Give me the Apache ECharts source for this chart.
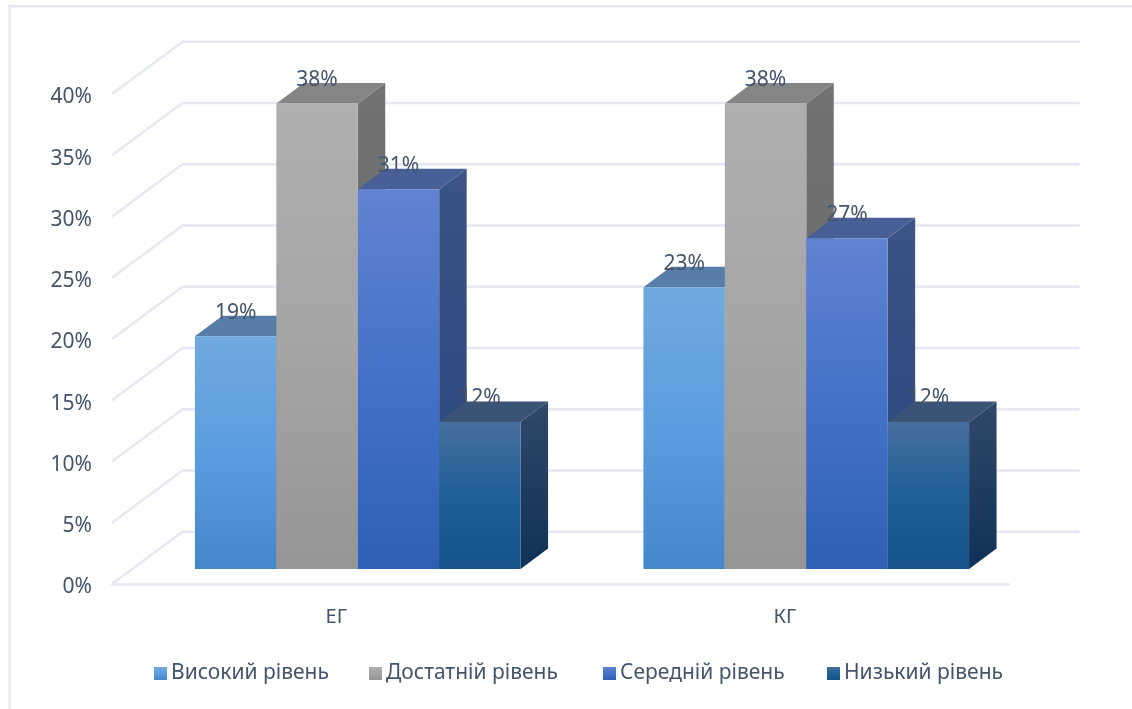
<!DOCTYPE html>
<html><head><meta charset="utf-8">
<style>html,body{margin:0;padding:0;background:#fff}#c{width:1132px;height:709px}</style>
<script src="https://cdn.jsdelivr.net/npm/echarts@6/dist/echarts.min.js"></script>
</head><body><div id="c"></div>
<script>
const categories = ['ЕГ', 'КГ'];
const seriesNames = ['Високий рівень', 'Достатній рівень', 'Середній рівень', 'Низький рівень'];
const vysokyi = [19, 23];
const dostatnii = [38, 38];
const serednii = [31, 27];
const nyzkyi = [12, 12];
const ticks = [0, 5, 10, 15, 20, 25, 30, 35, 40];

const FONT = '"Noto Sans"';
const TXT = '#44546a';
const WALL = '#e5e8f0';
const lg = (stops) => new echarts.graphic.LinearGradient(0, 0, 0, 1, stops.map((c, i) => ({offset: stops.length === 1 ? 0 : i / (stops.length - 1), color: c})));
const palettes = [
  {front: ['#70a9df', '#5b9dde', '#4587cb'], top: '#577da8', side: ['#3f6ea3', '#2f5f98']},
  {front: ['#afafaf', '#a5a5a5', '#959595'], top: '#858585', side: ['#727272', '#666666']},
  {front: ['#6183d0', '#4472c8', '#2f60b6'], top: '#486097', side: ['#3c5488', '#264579']},
  {front: ['#466f9e', '#205f97', '#15528a'], top: '#3b5377', side: ['#31486a', '#0f3157']}
];
// pseudo-3D projection, px
const wallDx = 70.5, wallDy = -52.3;
const barDx = 21.5, barDy = -15;
const depthDx = 27.5, depthDy = -20.5;
const barShare = 81.5 / 449;
const legendLefts = [154, 369, 603, 827];

function renderWall(params, api) {
  const v = api.value(0);
  const p = api.coord([0, v]);
  const cs = params.coordSys;
  const x0 = cs.x, x1 = cs.x + cs.width;
  return {type: 'polyline', silent: true,
    shape: {points: [[x0, p[1]], [x0 + wallDx, p[1] + wallDy], [x1 + wallDx, p[1] + wallDy]]},
    style: {stroke: WALL, lineWidth: 2.5, fill: null}};
}

function makeBar(si) {
  return function (params, api) {
    const cat = api.value(0), val = api.value(1);
    const top = api.coord([cat, val]), base = api.coord([cat, 0]);
    const w = api.size([1, 0])[0] * barShare;
    const xL = top[0] - 2 * w + si * w + barDx;
    const xR = xL + w;
    const yT = top[1] + barDy, yB = base[1] + barDy;
    const pal = palettes[si];
    return {type: 'group', children: [
      {type: 'polygon', shape: {points: [[xR, yT], [xR + depthDx, yT + depthDy], [xR + depthDx, yB + depthDy], [xR, yB]]},
        style: {fill: lg(pal.side)}},
      {type: 'polygon', shape: {points: [[xL, yT], [xL + depthDx, yT + depthDy], [xR + depthDx, yT + depthDy], [xR, yT]]},
        style: {fill: pal.top}},
      {type: 'rect', shape: {x: xL, y: yT, width: w, height: yB - yT},
        style: {fill: lg(pal.front)}}
    ]};
  };
}

function renderLabel(si) {
  return function (params, api) {
    const cat = api.value(0), val = api.value(1);
    const top = api.coord([cat, val]);
    const w = api.size([1, 0])[0] * barShare;
    const cx = top[0] - 2 * w + si * w + barDx + w / 2;
    return {type: 'text', silent: true,
      style: {x: cx, y: top[1] + barDy - 23.5, text: val + '%', fill: TXT, font: '21px ' + FONT, align: 'center', verticalAlign: 'middle'}};
  };
}

const values = [vysokyi, dostatnii, serednii, nyzkyi];
const series = [{type: 'custom', name: '_wall', renderItem: renderWall, data: ticks.map(t => [t]), encode: {y: 0}, silent: true, z: 1}];
values.forEach((arr, si) => {
  series.push({type: 'custom', name: seriesNames[si], renderItem: makeBar(si), z: 2 + si,
    itemStyle: {color: lg(palettes[si].front)},
    data: arr.map((v, i) => [i, v]), encode: {x: 0, y: 1}, silent: true});
});
values.forEach((arr, si) => {
  series.push({type: 'custom', name: '_label' + si, renderItem: renderLabel(si), z: 10,
    data: arr.map((v, i) => [i, v]), encode: {x: 0, y: 1}, silent: true});
});

const chart = echarts.init(document.getElementById('c'), null, {renderer: 'canvas'});
chart.setOption({
  animation: false,
  backgroundColor: '#fff',
  grid: {left: 112, right: 123, top: 94, bottom: 125, containLabel: false},
  xAxis: {type: 'category', data: categories, axisTick: {show: false},
    axisLine: {show: true, lineStyle: {color: WALL, width: 2.5}},
    axisLabel: {color: TXT, fontFamily: FONT, fontSize: 20, margin: 23}},
  yAxis: {type: 'value', min: 0, max: 40, interval: 5, axisLine: {show: false}, axisTick: {show: false},
    splitLine: {show: false},
    axisLabel: {color: TXT, fontFamily: FONT, fontSize: 21, margin: 20, verticalAlign: 'top', padding: [-7, 0, 0, 0], formatter: '{value}%'}},
  legend: seriesNames.map((n, i) => ({data: [n], left: legendLefts[i], top: 663, padding: 0, itemWidth: 13, itemHeight: 13, icon: 'rect',
    textStyle: {color: TXT, fontFamily: FONT, fontSize: 21, padding: [4, 0, 0, -1]}})),
  graphic: [{type: 'polyline', silent: true, shape: {points: [[9.6, 709], [9.6, 6.2], [1132, 6.2]]}, style: {stroke: WALL, lineWidth: 2.5, fill: null}}],
  series
});
</script></body></html>
